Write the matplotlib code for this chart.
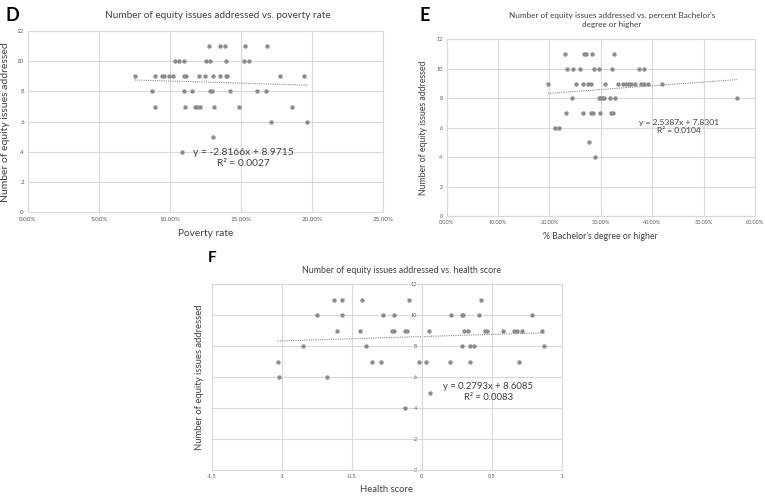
import numpy as np
import matplotlib.pyplot as plt
from matplotlib.ticker import FuncFormatter

plt.rcParams['font.family'] = ['Lato', 'DejaVu Sans']

# Pannello D: tasso di poverta' (in %) e numero di problemi affrontati
poverty_pct = [12.77, 13.53, 13.88, 15.27, 16.82,
               10.32, 10.63, 10.97, 12.52, 12.85, 13.92, 15.23, 15.56,
               7.52, 8.95, 9.44, 9.55, 9.96, 10.22, 10.97, 11.13, 12.03, 12.45,
               13.04, 13.55, 13.92, 14.03, 17.78, 19.47,
               8.74, 10.97, 11.54, 12.85, 12.93, 14.25, 16.14, 16.77,
               8.95, 11.03, 11.75, 11.91, 12.11, 13.13, 14.88, 18.58,
               17.14, 19.65, 13.0, 10.85]
issues_d = [11] * 5 + [10] * 8 + [9] * 16 + [8] * 8 + [7] * 8 + [6] * 2 + [5, 4]

# Pannello E: % laurea triennale o superiore
bachelor_pct = [23.0, 26.7, 27.1, 28.3, 32.5,
                23.46, 24.6, 25.9, 28.7, 29.7, 32.2, 37.4, 38.4,
                19.7, 25.15, 26.6, 27.55, 28.1, 30.9, 33.3, 34.4, 34.9, 35.4,
                35.9, 36.7, 37.9, 38.4, 39.2, 42.0,
                24.3, 29.6, 29.9, 30.3, 30.6, 31.8, 32.85, 56.5,
                23.2, 26.6, 28.0, 28.5, 29.9, 32.0, 32.4,
                21.1, 21.9, 27.7, 28.85]
issues_e = [11] * 5 + [10] * 8 + [9] * 16 + [8] * 8 + [7] * 7 + [6] * 2 + [5, 4]

# Pannello F: health score
health_score = [-0.627, -0.572, -0.43, -0.094, 0.424,
                -0.751, -0.572, -0.275, -0.199, 0.21, 0.286, 0.295, 0.407, 0.788,
                -0.608, -0.442, -0.216, -0.199, -0.118, -0.108, 0.053, 0.298,
                0.329, 0.45, 0.467, 0.579, 0.657, 0.681, 0.712, 0.859,
                -0.846, -0.399, 0.286, 0.341, 0.374, 0.873,
                -1.029, -0.354, -0.292, -0.023, 0.027, 0.2, 0.343, 0.693,
                -1.018, -0.68, 0.058, -0.12]
issues_f = [11] * 5 + [10] * 9 + [9] * 16 + [8] * 6 + [7] * 8 + [6] * 2 + [5, 4]

# coefficienti delle rette di tendenza (come riportati nel grafico)
fit_d = (-2.8166, 8.9715, "0.0027")
fit_e = (2.5387, 7.8301, "0.0104")
fit_f = (0.2793, 8.6085, "0.0083")

GRID = '#d9d9d9'
DOT = '#8c8c8c'
TXT = '#404040'


def style_axes(ax, ticksize):
    ax.grid(True, color=GRID, linewidth=0.8)
    ax.set_axisbelow(True)
    for s in ax.spines.values():
        s.set_color(GRID)
        s.set_linewidth(0.8)
    ax.tick_params(length=0, labelsize=ticksize, colors='#595959', pad=3)


def draw_panel(ax, x, y, fit):
    slope, intercept, r2 = fit
    ax.scatter(x, y, s=10, color=DOT, zorder=3, linewidths=0)
    xs = np.array([min(x), max(x)])
    ax.plot(xs, slope * xs + intercept, linestyle=(0, (1, 1)), color=DOT,
            linewidth=0.8, zorder=2)
    sign = '-' if intercept < 0 else '+'
    return f"y = {slope:.4f}x {sign} {intercept:.4f}\nR\u00b2 = {r2}"


fig = plt.figure(figsize=(7.65, 4.96), dpi=100)

# ---- D
ax_d = fig.add_axes([0.0366, 0.5716, 0.464, 0.366])
px = np.array(poverty_pct) / 100
eq = draw_panel(ax_d, px, issues_d, fit_d)
ax_d.set_xlim(0, 0.25)
ax_d.set_ylim(0, 12)
ax_d.set_xticks(np.arange(0, 0.2501, 0.05))
ax_d.set_yticks(range(0, 13, 2))
ax_d.xaxis.set_major_formatter(FuncFormatter(lambda v, p: f"{v*100:.2f}%"))
style_axes(ax_d, 4.5)
ax_d.text(0.1515, 3.6, eq, ha='center', va='center', fontsize=7.4,
          color=TXT, linespacing=1.3)
ax_d.set_title("Number of equity issues addressed vs. poverty rate",
               fontsize=7.2, color=TXT, pad=9, x=0.535)
ax_d.set_xlabel("Poverty rate", fontsize=7.3, color=TXT, labelpad=5)
ax_d.set_ylabel("Number of equity issues addressed", fontsize=7.5,
                color=TXT, labelpad=5)
fig.text(0.007, 0.985, "D", fontsize=13, fontweight='bold', va='top')

# ---- E
ax_e = fig.add_axes([0.5839, 0.5645, 0.403, 0.3562])
bx = np.array(bachelor_pct) / 100
eq = draw_panel(ax_e, bx, issues_e, fit_e)
ax_e.set_xlim(0, 0.6)
ax_e.set_ylim(0, 12)
ax_e.set_xticks(np.arange(0, 0.601, 0.1))
ax_e.set_yticks(range(0, 13, 2))
ax_e.xaxis.set_major_formatter(FuncFormatter(lambda v, p: f"{v*100:.2f}%"))
style_axes(ax_e, 4)
ax_e.text(0.452, 6.1, eq, ha='center', va='center', fontsize=6.1,
          color=TXT, linespacing=1.2)
ax_e.set_title("Number of equity issues addressed vs. percent Bachelor's\ndegree or higher",
               fontsize=5.9, color=TXT, pad=9, linespacing=1.3, x=0.536)
ax_e.set_xlabel("% Bachelor's degree or higher", fontsize=6.3, color=TXT, labelpad=5)
ax_e.set_ylabel("Number of equity issues addressed", fontsize=6.3,
                color=TXT, labelpad=5)
ax_e.yaxis.set_label_coords(-0.061, 0.5)
fig.text(0.549, 0.985, "E", fontsize=13, fontweight='bold', va='top')

# ---- F
ax_f = fig.add_axes([0.2767, 0.0524, 0.4579, 0.375])
eq = draw_panel(ax_f, health_score, issues_f, fit_f)
ax_f.set_xlim(-1.5, 1)
ax_f.set_ylim(0, 12)
ax_f.set_xticks([-1.5, -1, -0.5, 0, 0.5, 1])
ax_f.set_xticklabels(["-1.5", "-1", "-0.5", "0", "0.5", "1"])
ax_f.set_yticks(range(0, 13, 2))
style_axes(ax_f, 4)
ax_f.spines['left'].set_position(('data', 0))
ax_f.tick_params(axis='y', length=2, color=GRID, direction='out', pad=1.5)
# gridline sul bordo sinistro (il vero asse e' a x=0)
ax_f.axvline(-1.5, color=GRID, linewidth=0.8, zorder=0)
ax_f.text(0.475, 5.05, eq, ha='center', va='center', fontsize=6.8,
          color=TXT, linespacing=1.25)
ax_f.set_title("Number of equity issues addressed vs. health score",
               fontsize=6.4, color=TXT, pad=8, x=0.542)
ax_f.set_xlabel("Health score", fontsize=6.8, color=TXT, labelpad=4)
ax_f.set_ylabel("Number of equity issues addressed", fontsize=6.8,
                color=TXT)
ax_f.yaxis.set_label_coords(-0.022, 0.5)
fig.text(0.272, 0.493, "F", fontsize=11, fontweight='bold', va='top')

fig.savefig("out.png", dpi=100)
